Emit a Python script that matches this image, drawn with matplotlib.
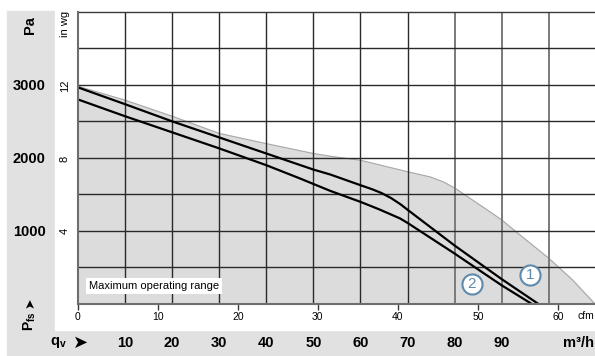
import matplotlib
matplotlib.use("Agg")
import matplotlib.pyplot as plt
from matplotlib.patches import Rectangle
from matplotlib.transforms import blended_transform_factory


# ---------------------------------------------------------
# Fan curve data (q_v in m³/h, p_fs in Pa)
# ---------------------------------------------------------
range_q = [0, 10, 20, 30, 40, 50, 53.6, 60, 70, 74.8, 77.6, 80.2, 83.3, 87.5, 90, 93, 100, 105, 109.8]
range_p = [2980, 2790, 2570, 2335, 2195, 2060, 2022, 1967, 1810, 1739, 1671, 1580, 1444, 1261, 1150, 990, 625, 330, 0]

curve1_q = [0, 10, 20, 30, 40, 50, 53.6, 60, 62.5, 64.5, 66.5, 68.5, 70, 80, 90, 97.8]
curve1_p = [2965, 2735, 2500, 2280, 2060, 1840, 1772, 1626, 1570, 1518, 1450, 1365, 1290, 800, 340, 0]

curve2_q = [0, 10, 20, 30, 40, 47.2, 53.6, 60, 64, 68.4, 70, 80, 90, 96.4]
curve2_p = [2800, 2570, 2350, 2130, 1900, 1717, 1548, 1398, 1295, 1171, 1110, 690, 255, 0]

label_names = ["1", "2"]
label_q = [96.0, 83.6]
label_p = [396, 269]

m3h_ticks = [10, 20, 30, 40, 50, 60, 70, 80, 90]
cfm_ticks = [0, 10, 20, 30, 40, 50, 60]
pa_ticks = [1000, 2000, 3000]
inwg_ticks = [4, 8, 12]

CFM_TO_M3H = 1.699
INWG_TO_PA = 249.09

W, H = 595, 356

plt.rcParams["font.family"] = ["Liberation Sans", "DejaVu Sans"]


def fx(px):
    return px / W


def fy(py):
    return 1 - py / H


fig = plt.figure(figsize=(W / 100, H / 100), dpi=100)

# gray frame band on the left and bottom, white panel on top of it
fig.patches.append(Rectangle((fx(7), fy(355)), fx(595) - fx(7), fy(10.7) - fy(355),
                             transform=fig.transFigure, color="#e1e1e1", zorder=-10))
fig.patches.append(Rectangle((fx(55), fy(330)), fx(595) - fx(55), 1 - fy(330),
                             transform=fig.transFigure, color="white", zorder=-9))

ax = fig.add_axes([fx(77.8), fy(304), 1 - fx(77.8), fy(11.7) - fy(304)])
ax.set_facecolor("none")
ax.set_xlim(0, 109.8)
ax.set_ylim(0, 4000)

# maximum operating range
ax.fill_between(range_q, range_p, 0, color="#dcdcdd", zorder=1)
ax.plot(range_q, range_p, color="#a8a8a8", lw=0.8, zorder=1.5)

# grid
for q in range(10, 110, 10):
    col = "#7a7a7a" if q >= 80 else "#2a2a2a"
    lw = 1.4 if q >= 80 else 1.0
    ax.axvline(q, color=col, lw=lw, zorder=2)
for p in range(500, 4000, 500):
    ax.axhline(p, color="#2a2a2a", lw=1.0, zorder=2)

ax.plot(curve1_q, curve1_p, color="black", lw=1.6, zorder=3, solid_joinstyle="round")
ax.plot(curve2_q, curve2_p, color="black", lw=1.6, zorder=3, solid_joinstyle="round")

for name, q, p in zip(label_names, label_q, label_p):
    ax.scatter([q], [p], s=210, facecolor="white", edgecolor="#5f8aab", lw=1.5, zorder=4)
    ax.text(q, p, name, color="#5f8aab", fontsize=11, ha="center", va="center", zorder=5)

ax.text(2.4, 249, "Maximum operating range", fontsize=8, ha="left", va="center", zorder=5,
        bbox=dict(facecolor="white", edgecolor="none", pad=2.2))

# spines
ax.spines["right"].set_visible(False)
ax.spines["top"].set_color("#3a3a3a")
ax.spines["top"].set_linewidth(1.0)
for s in ["left", "bottom"]:
    ax.spines[s].set_color("#6e6e6e")
    ax.spines[s].set_linewidth(1.5)
    ax.spines[s].set_zorder(6)

# cfm ticks along the bottom
ax.set_xticks([c * CFM_TO_M3H for c in cfm_ticks])
ax.set_xticklabels([str(c) for c in cfm_ticks])
ax.tick_params(axis="x", direction="out", length=4, width=1.0, color="#3a3a3a",
               labelsize=7.5, pad=2)
fig.text(fx(594), fy(316), "cfm", fontsize=7.5, ha="right", va="center")

# Pa labels in the gray band
ax.set_yticks(pa_ticks)
ax.set_yticklabels([str(p) for p in pa_ticks], fontweight="bold")
ax.tick_params(axis="y", length=0, labelsize=10.5, pad=23)

# in wg labels
tr_y = blended_transform_factory(fig.transFigure, ax.transData)
for v in inwg_ticks:
    ax.text(fx(65), v * INWG_TO_PA, str(v), transform=tr_y, rotation=90,
            fontsize=8, ha="center", va="center")
fig.text(fx(65), fy(24), "in wg", rotation=90, fontsize=8, ha="center", va="center")

# m³/h labels in the bottom band
tr_x = blended_transform_factory(ax.transData, fig.transFigure)
for q in m3h_ticks:
    ax.text(q, fy(343), str(q), transform=tr_x, fontsize=10.5, fontweight="bold",
            ha="center", va="center")
fig.text(fx(594), fy(343), "m³/h", fontsize=10.5, fontweight="bold", ha="right", va="center")

# axis captions
fig.text(fx(30), fy(25), "Pa", rotation=90, fontsize=10.5, fontweight="bold",
         ha="center", va="center")
fig.text(fx(30), fy(303), "➤", rotation=90, fontsize=9, ha="center", va="center",
         family=["DejaVu Sans"])
fig.text(fx(30), fy(321), r"P$_{\mathregular{fs}}$", rotation=90, fontsize=10,
         fontweight="bold", ha="center", va="center")
fig.text(fx(58.5), fy(343), r"q$_{\mathregular{v}}$", fontsize=10.5, fontweight="bold",
         ha="center", va="center")
fig.text(fx(81), fy(343), "➤", fontsize=13, ha="center", va="center", family=["DejaVu Sans"])

fig.savefig("out.png", dpi=100)
